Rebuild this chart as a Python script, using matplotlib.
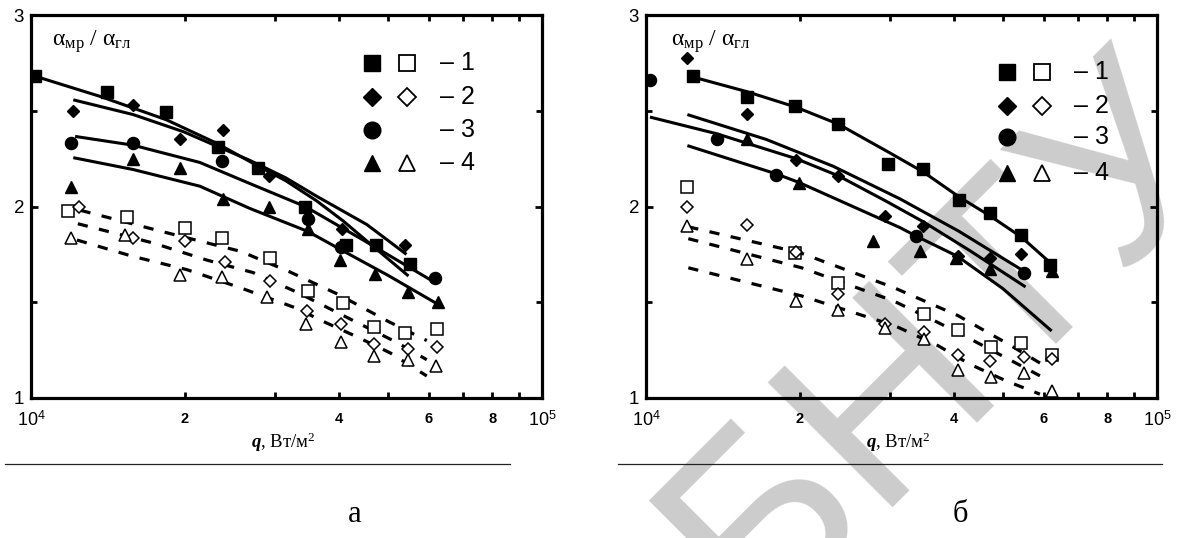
import matplotlib
matplotlib.use("Agg")
import matplotlib.pyplot as plt
from matplotlib.ticker import FixedLocator, FixedFormatter
from matplotlib.lines import Line2D

plt.rcParams['mathtext.fontset'] = 'custom'
plt.rcParams['mathtext.rm'] = 'Liberation Sans'
plt.rcParams['mathtext.sf'] = 'Liberation Serif'
plt.rcParams['mathtext.it'] = 'Liberation Serif:italic'
plt.rcParams['mathtext.bf'] = 'Liberation Serif:italic:bold'
plt.rcParams['font.family'] = ['Liberation Sans', 'DejaVu Sans']

# ---------------- data: panel "а" ----------------
a_sq_f_x = [1.02e4, 1.41e4, 1.84e4, 2.32e4, 2.78e4, 3.43e4, 4.13e4, 4.73e4, 5.52e4]
a_sq_f_y = [2.68, 2.60, 2.495, 2.31, 2.20, 2.00, 1.80, 1.80, 1.70]
a_di_f_x = [1.21e4, 1.58e4, 1.96e4, 2.38e4, 2.92e4, 4.06e4, 5.40e4]
a_di_f_y = [2.50, 2.53, 2.35, 2.40, 2.16, 1.88, 1.80]
a_ci_f_x = [1.20e4, 1.58e4, 2.37e4, 3.48e4, 4.05e4, 6.18e4]
a_ci_f_y = [2.33, 2.33, 2.24, 1.935, 1.79, 1.625]
a_tr_f_x = [1.20e4, 1.58e4, 1.96e4, 2.38e4, 2.92e4, 3.48e4, 4.03e4, 4.71e4, 5.47e4, 6.27e4]
a_tr_f_y = [2.10, 2.25, 2.20, 2.04, 1.995, 1.885, 1.72, 1.645, 1.555, 1.50]

a_sq_o_x = [1.18e4, 1.54e4, 2.00e4, 2.37e4, 2.94e4, 3.48e4, 4.08e4, 4.69e4, 5.40e4, 6.22e4]
a_sq_o_y = [1.975, 1.943, 1.89, 1.833, 1.73, 1.56, 1.495, 1.37, 1.34, 1.36]
a_di_o_x = [1.24e4, 1.58e4, 2.00e4, 2.40e4, 2.94e4, 3.47e4, 4.05e4, 4.69e4, 5.47e4, 6.22e4]
a_di_o_y = [2.00, 1.833, 1.82, 1.71, 1.61, 1.455, 1.385, 1.28, 1.255, 1.265]
a_tr_o_x = [1.20e4, 1.53e4, 1.96e4, 2.37e4, 2.90e4, 3.46e4, 4.05e4, 4.70e4, 5.47e4, 6.20e4]
a_tr_o_y = [1.833, 1.85, 1.64, 1.63, 1.53, 1.385, 1.29, 1.22, 1.20, 1.165]

a_fit1_x = [1.02e4, 1.365e4, 1.84e4, 2.31e4, 2.68e4, 3.15e4, 3.62e4, 4.08e4, 4.54e4, 5.48e4]
a_fit1_y = [2.68, 2.575, 2.453, 2.33, 2.235, 2.135, 2.03, 1.925, 1.82, 1.637]
a_fit2_x = [1.21e4, 1.585e4, 1.99e4, 2.31e4, 2.68e4, 3.15e4, 3.62e4, 4.54e4, 5.43e4]
a_fit2_y = [2.557, 2.48, 2.39, 2.315, 2.241, 2.15, 2.054, 1.906, 1.75]
a_fit3_x = [1.22e4, 1.585e4, 2.14e4, 2.68e4, 3.44e4, 4.50e4, 6.20e4]
a_fit3_y = [2.366, 2.32, 2.23, 2.12, 2.00, 1.82, 1.60]
a_fit4_x = [1.21e4, 1.585e4, 2.14e4, 2.68e4, 3.48e4, 4.03e4, 5.00e4, 6.25e4]
a_fit4_y = [2.255, 2.193, 2.106, 1.99, 1.87, 1.776, 1.64, 1.49]

a_dot1_x = [1.25e4, 1.80e4, 2.57e4, 3.20e4, 4.00e4, 5.00e4, 5.95e4]
a_dot1_y = [1.98, 1.87, 1.766, 1.66, 1.54, 1.40, 1.30]
a_dot2_x = [1.235e4, 1.73e4, 2.21e4, 2.72e4, 3.33e4, 4.34e4, 5.20e4, 5.95e4]
a_dot2_y = [1.91, 1.81, 1.72, 1.655, 1.55, 1.395, 1.29, 1.20]
a_dot3_x = [1.23e4, 1.58e4, 2.02e4, 2.56e4, 3.30e4, 3.73e4, 4.34e4, 5.05e4, 5.95e4]
a_dot3_y = [1.825, 1.74, 1.67, 1.577, 1.47, 1.40, 1.32, 1.235, 1.115]

# ---------------- data: panel "б" ----------------
b_sq_f_x = [1.234e4, 1.574e4, 1.96e4, 2.38e4, 2.98e4, 3.49e4, 4.10e4, 4.72e4, 5.43e4, 6.17e4]
b_sq_f_y = [2.679, 2.571, 2.526, 2.432, 2.224, 2.196, 2.033, 1.967, 1.849, 1.693]
b_di_f_x = [1.205e4, 1.574e4, 1.966e4, 2.38e4, 2.94e4, 3.49e4, 4.07e4, 4.72e4, 5.43e4]
b_di_f_y = [2.774, 2.483, 2.245, 2.161, 1.953, 1.90, 1.741, 1.73, 1.75]
b_ci_f_x = [1.018e4, 1.375e4, 1.80e4, 3.38e4, 5.50e4]
b_ci_f_y = [2.661, 2.353, 2.167, 1.845, 1.651]
b_tr_f_x = [1.574e4, 1.995e4, 2.787e4, 3.44e4, 4.05e4, 4.72e4, 6.22e4]
b_tr_f_y = [2.353, 2.123, 1.82, 1.767, 1.73, 1.672, 1.663]

b_sq_o_x = [1.205e4, 1.955e4, 2.38e4, 3.50e4, 4.07e4, 4.73e4, 5.43e4, 6.24e4]
b_sq_o_y = [2.103, 1.759, 1.60, 1.4375, 1.356, 1.267, 1.286, 1.224]
b_di_o_x = [1.205e4, 1.574e4, 1.966e4, 2.38e4, 2.94e4, 3.50e4, 4.07e4, 4.72e4, 5.50e4, 6.24e4]
b_di_o_y = [2.00, 1.906, 1.765, 1.542, 1.385, 1.345, 1.226, 1.195, 1.212, 1.203]
b_tr_o_x = [1.205e4, 1.574e4, 1.966e4, 2.38e4, 2.94e4, 3.50e4, 4.07e4, 4.73e4, 5.50e4, 6.22e4]
b_tr_o_y = [1.90, 1.724, 1.507, 1.46, 1.363, 1.307, 1.146, 1.111, 1.129, 1.038]

b_fit1_x = [1.26e4, 1.574e4, 1.96e4, 2.38e4, 3.00e4, 3.49e4, 4.10e4, 4.72e4, 5.43e4, 6.10e4]
b_fit1_y = [2.67, 2.60, 2.52, 2.43, 2.28, 2.18, 2.05, 1.95, 1.84, 1.72]
b_fit2_x = [1.205e4, 1.72e4, 2.325e4, 3.14e4, 4.10e4, 5.43e4]
b_fit2_y = [2.48, 2.35, 2.21, 2.04, 1.87, 1.67]
b_fit3_x = [1.018e4, 1.375e4, 1.966e4, 2.38e4, 2.94e4, 3.49e4, 4.30e4, 5.53e4]
b_fit3_y = [2.467, 2.38, 2.25, 2.16, 2.03, 1.92, 1.77, 1.58]
b_fit4_x = [1.205e4, 1.80e4, 1.995e4, 3.14e4, 3.38e4, 4.07e4, 5.00e4, 6.22e4]
b_fit4_y = [2.318, 2.17, 2.125, 1.89, 1.845, 1.74, 1.57, 1.35]

b_dot1_x = [1.21e4, 2.00e4, 3.05e4, 4.08e4, 5.12e4, 5.95e4]
b_dot1_y = [1.894, 1.759, 1.577, 1.43, 1.281, 1.177]
b_dot2_x = [1.21e4, 2.016e4, 3.05e4, 3.73e4, 4.37e4, 5.12e4, 5.90e4]
b_dot2_y = [1.832, 1.68, 1.507, 1.394, 1.30, 1.203, 1.116]
b_dot3_x = [1.21e4, 2.016e4, 3.07e4, 3.73e4, 4.30e4, 5.06e4, 5.90e4]
b_dot3_y = [1.68, 1.533, 1.377, 1.273, 1.177, 1.09, 1.02]

x_major = [1e4, 1e5]
x_major_labels = ['10$^{4}$', '10$^{5}$']
x_minor = [2e4, 3e4, 4e4, 5e4, 6e4, 7e4, 8e4, 9e4]
x_minor_labels = ['2', '', '4', '', '6', '', '8', '']
y_major = [1, 2, 3]
y_major_labels = ['1', '2', '3']
y_minor = [1.5, 2.5]
legend_labels = ['\u2013 1', '\u2013 2', '\u2013 3', '\u2013 4']
watermark_text = 'БНТУ'

W, H = 1199, 538
fig = plt.figure(figsize=(W / 100, H / 100), dpi=100)

FS = 8.7     # marker size of data points
LW = 2.2


def panel(left_px, data, leg_x, leg_y, lab_x):
    ax = fig.add_axes([left_px / W, 1 - 398 / H, 511 / W, 383 / H])
    ax.set_facecolor('none')
    ax.set_xscale('log')
    ax.set_xlim(1e4, 1e5)
    ax.set_ylim(1, 3)
    (sqf, dif, cif, trf, sqo, dio, tro, fits, dots) = data
    for fx, fy in fits:
        ax.plot(fx, fy, '-', color='black', lw=LW, solid_capstyle='butt', zorder=2)
    for dx, dy in dots:
        ax.plot(dx, dy, linestyle=(0, (3.2, 3.6)), color='black', lw=2.3, zorder=2,
                dash_capstyle='butt')
    ax.plot(*sqf, 's', ms=FS, color='black', mec='black', zorder=3)
    ax.plot(*dif, 'D', ms=6.4, color='black', mec='black', zorder=3)
    ax.plot(*cif, 'o', ms=FS, color='black', mec='black', zorder=3)
    ax.plot(*trf, '^', ms=FS, color='black', mec='black', zorder=3)
    ax.plot(*sqo, 's', ms=FS, mfc='white', mec='black', mew=1.1, zorder=3)
    ax.plot(*dio, 'D', ms=6.4, mfc='white', mec='black', mew=1.1, zorder=3)
    ax.plot(*tro, '^', ms=FS, mfc='white', mec='black', mew=1.1, zorder=3)

    # legend (two marker columns + text)
    specs = [('s', 12, True), ('D', 9.5, True), ('o', 12, False), ('^', 12, True)]
    for i, (m, ms, has_open) in enumerate(specs):
        ax.plot([leg_x[0]], [leg_y[i]], m, ms=ms, color='black',
                transform=ax.transAxes, clip_on=False)
        if has_open:
            ax.plot([leg_x[1]], [leg_y[i]], m, ms=ms - 0.5, mfc='white', mec='black',
                    mew=1.3, transform=ax.transAxes, clip_on=False)
        ax.text(leg_x[2], leg_y[i], legend_labels[i], transform=ax.transAxes,
                fontsize=18, ha='left', va='center', family='Liberation Sans')

    # axes cosmetics
    for s in ax.spines.values():
        s.set_linewidth(2.3)
    ax.xaxis.set_major_locator(FixedLocator(x_major))
    ax.xaxis.set_major_formatter(FixedFormatter(x_major_labels))
    ax.xaxis.set_minor_locator(FixedLocator(x_minor))
    ax.xaxis.set_minor_formatter(FixedFormatter(x_minor_labels))
    ax.yaxis.set_major_locator(FixedLocator(y_major))
    ax.yaxis.set_major_formatter(FixedFormatter(y_major_labels))
    ax.yaxis.set_minor_locator(FixedLocator(y_minor))
    ax.yaxis.set_minor_formatter(FixedFormatter(['', '']))
    ax.tick_params(which='both', direction='in', top=True, right=True, width=2,
                   color='black')
    ax.tick_params(which='major', length=5)
    ax.tick_params(which='minor', length=4)
    ax.tick_params(axis='x', which='major', labelsize=13, pad=9)
    ax.tick_params(axis='x', which='minor', labelsize=10.5, pad=10)
    ax.tick_params(axis='y', which='major', labelsize=13.5, pad=5)
    for lbl in ax.get_xticklabels(minor=True):
        lbl.set_fontweight('bold')

    ax.text(lab_x, 0.965, '\u03b1$_{\\mathsf{мр}}$ / \u03b1$_{\\mathsf{гл}}$',
            transform=ax.transAxes, fontsize=17, family='Liberation Serif',
            ha='left', va='top')
    ax.text(0.493, -0.115, '$\\mathbf{q}$, Вт/м$^{\\mathsf{2}}$', transform=ax.transAxes,
            fontsize=13.5, family='Liberation Serif', ha='center', va='center')
    return ax


data_a = ((a_sq_f_x, a_sq_f_y), (a_di_f_x, a_di_f_y), (a_ci_f_x, a_ci_f_y),
          (a_tr_f_x, a_tr_f_y), (a_sq_o_x, a_sq_o_y), (a_di_o_x, a_di_o_y),
          (a_tr_o_x, a_tr_o_y),
          [(a_fit1_x, a_fit1_y), (a_fit2_x, a_fit2_y), (a_fit3_x, a_fit3_y),
           (a_fit4_x, a_fit4_y)],
          [(a_dot1_x, a_dot1_y), (a_dot2_x, a_dot2_y), (a_dot3_x, a_dot3_y)])
data_b = ((b_sq_f_x, b_sq_f_y), (b_di_f_x, b_di_f_y), (b_ci_f_x, b_ci_f_y),
          (b_tr_f_x, b_tr_f_y), (b_sq_o_x, b_sq_o_y), (b_di_o_x, b_di_o_y),
          (b_tr_o_x, b_tr_o_y),
          [(b_fit1_x, b_fit1_y), (b_fit2_x, b_fit2_y), (b_fit3_x, b_fit3_y),
           (b_fit4_x, b_fit4_y)],
          [(b_dot1_x, b_dot1_y), (b_dot2_x, b_dot2_y), (b_dot3_x, b_dot3_y)])

panel(31, data_a, (0.667, 0.736, 0.800), (0.875, 0.786, 0.700, 0.614), 0.041)
panel(646, data_b, (0.706, 0.775, 0.838), (0.851, 0.762, 0.681, 0.587), 0.049)

# light-grey watermark of the source document (behind the plots)
fig.text(945 / W, 1 - 340 / H, watermark_text, fontsize=185, color='#cccccc',
         family='Liberation Sans', rotation=45, rotation_mode='anchor',
         ha='center', va='center', zorder=-1)

# rules under each panel and captions
for x0, x1 in [(5, 510), (618, 1162)]:
    fig.add_artist(Line2D([x0 / W, x1 / W], [1 - 464 / H, 1 - 464 / H],
                          transform=fig.transFigure, color='#222222', lw=0.9))
fig.text(355 / W, 1 - 515 / H, 'а', fontsize=22, family='Liberation Serif',
         ha='center', va='center')
fig.text(960 / W, 1 - 515 / H, 'б', fontsize=22, family='Liberation Serif',
         ha='center', va='center')

fig.savefig('out.png', dpi=100, facecolor='white')
